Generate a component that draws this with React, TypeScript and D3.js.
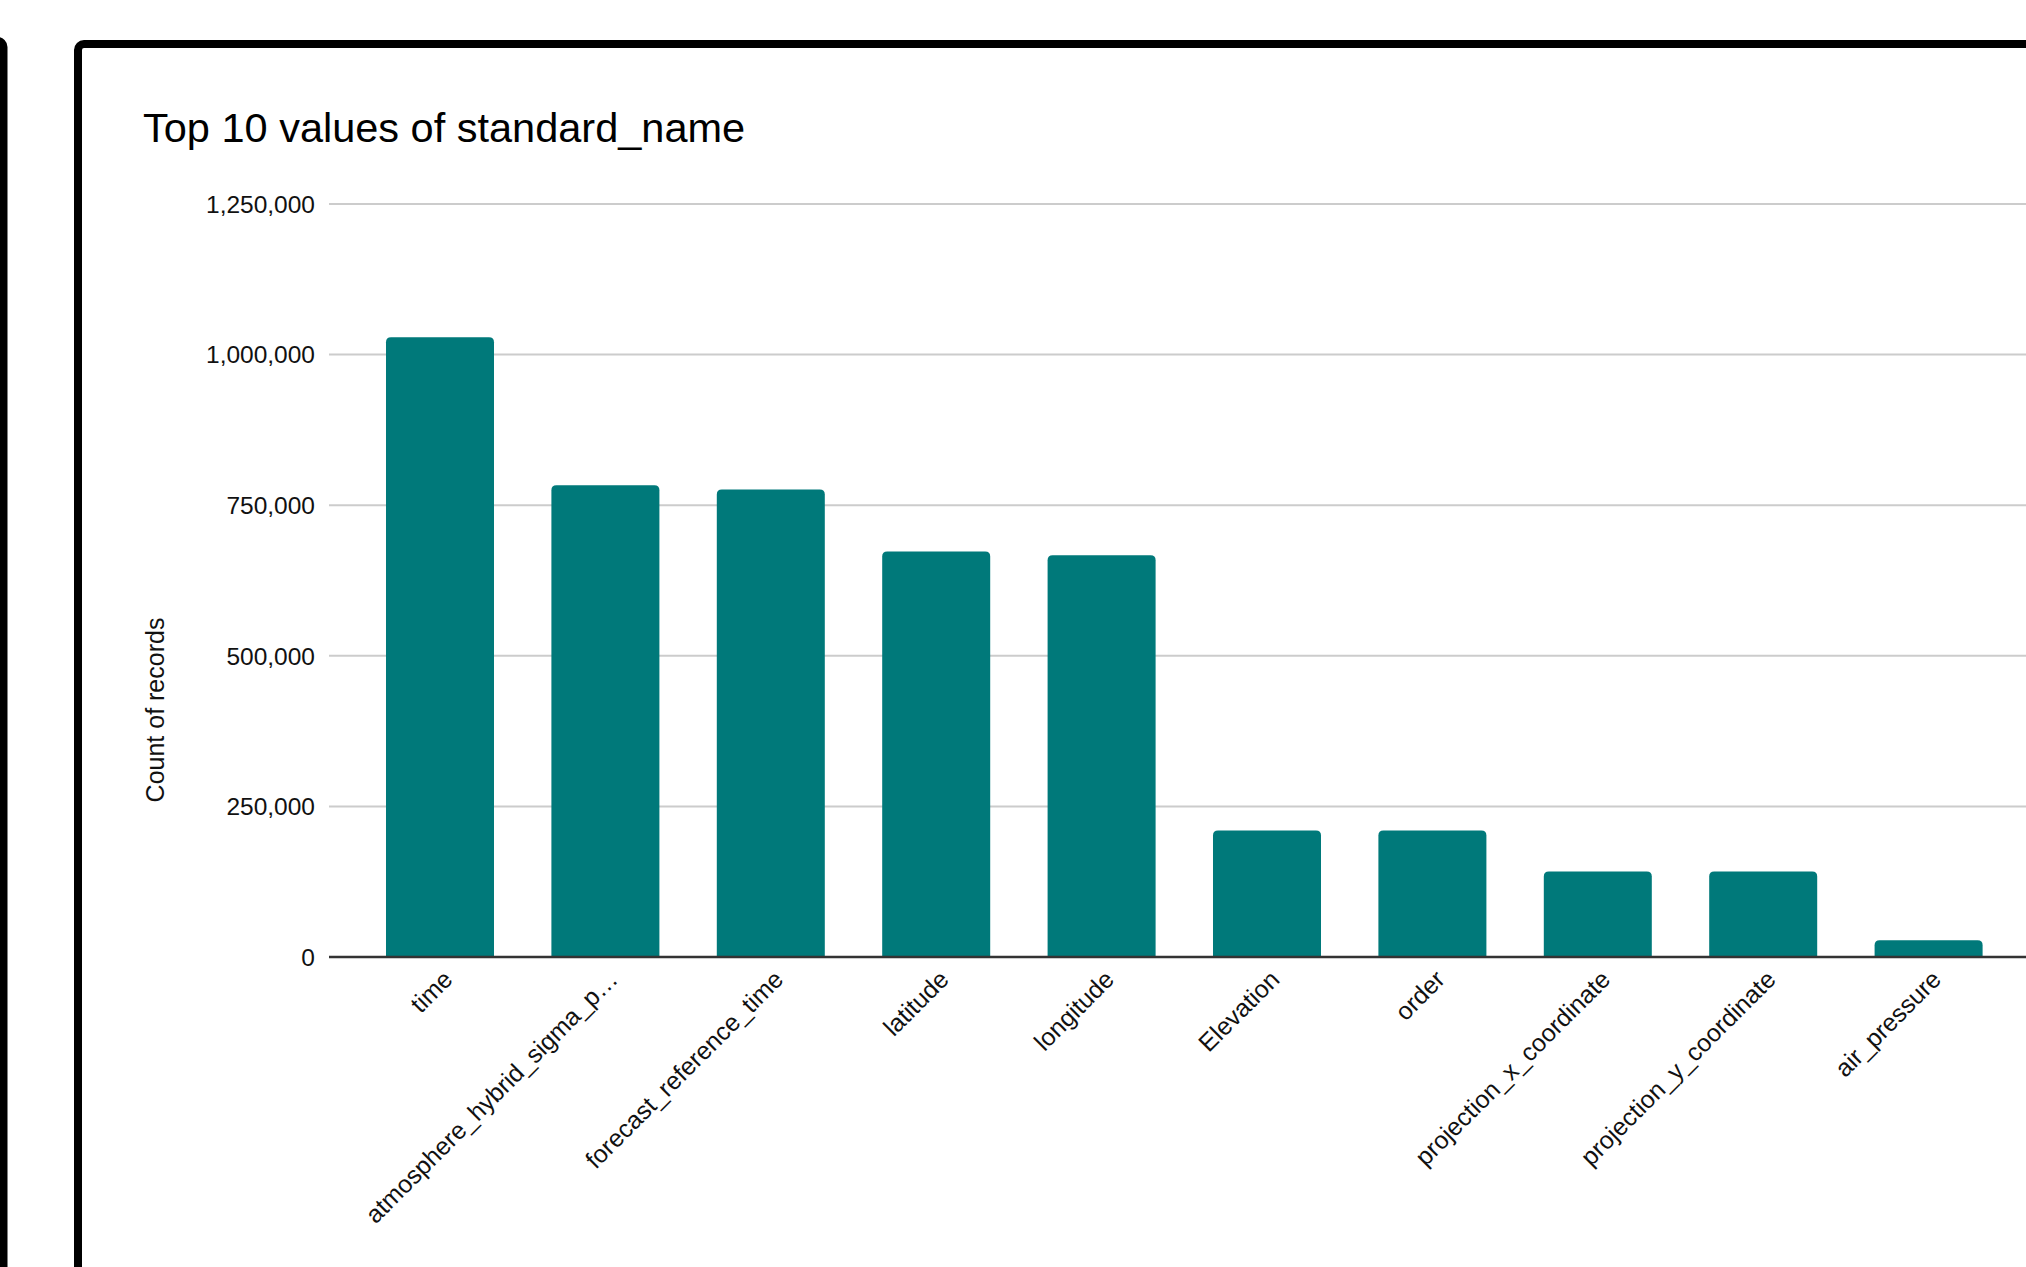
import React from "react";
import * as d3 from "d3";

const categories = [
  "time",
  "atmosphere_hybrid_sigma_p…",
  "forecast_reference_time",
  "latitude",
  "longitude",
  "Elevation",
  "order",
  "projection_x_coordinate",
  "projection_y_coordinate",
  "air_pressure",
];
const counts = [1029000, 783000, 776000, 673000, 667000, 210000, 210000, 142000, 142000, 28000];
const yTicks = [0, 250000, 500000, 750000, 1000000, 1250000];
const title = "Top 10 values of standard_name";
const yTitle = "Count of records";

const W = 2026;
const H = 1267;
const FONT = "'Liberation Sans', Arial, Helvetica, sans-serif";

function topRoundedBar(x: number, y: number, w: number, h: number, r: number) {
  const rr = Math.min(r, h, w / 2);
  const p = d3.path();
  p.moveTo(x, y + h);
  p.lineTo(x, y + rr);
  p.quadraticCurveTo(x, y, x + rr, y);
  p.lineTo(x + w - rr, y);
  p.quadraticCurveTo(x + w, y, x + w, y + rr);
  p.lineTo(x + w, y + h);
  p.closePath();
  return p.toString();
}

export default function App() {
  const x = d3
    .scaleBand<string>()
    .domain(categories)
    .range([357.3, 2011.3])
    .paddingInner(0.347)
    .paddingOuter(0.1735);
  const y = d3.scaleLinear().domain([0, 1250000]).range([957, 204]);
  const fmt = d3.format(",");

  return (
    <svg
      width={W}
      height={H}
      style={{ position: "absolute", left: 0, top: 0, background: "#fff" }}
      fontFamily={FONT}
    >
      <rect x={0} y={0} width={W} height={H} fill="#fff" />
      {/* partial neighbouring frame at the left */}
      <rect x={-200} y={41} width={203.5} height={1400} rx={6} fill="none" stroke="#000" strokeWidth={8} />
      {/* chart frame */}
      <rect x={78} y={44} width={2100} height={1400} rx={6} fill="none" stroke="#000" strokeWidth={8} />

      <text x={143} y={142} fontSize={41.5} fill="#000">
        {title}
      </text>

      {yTicks.map((t) => (
        <g key={t}>
          {t !== 0 && (
            <line x1={329} x2={W + 10} y1={y(t)} y2={y(t)} stroke="#cccccc" strokeWidth={2} />
          )}
          <text x={315} y={y(t)} dy="0.36em" textAnchor="end" fontSize={24.5} fill="#111">
            {fmt(t)}
          </text>
        </g>
      ))}

      <text
        transform={`translate(164,710) rotate(-90)`}
        textAnchor="middle"
        fontSize={25}
        fill="#111"
      >
        {yTitle}
      </text>

      {categories.map((c, i) => {
        const bx = x(c)!;
        const by = y(counts[i]);
        return (
          <path
            key={c}
            d={topRoundedBar(bx, by, x.bandwidth(), y(0) - by, 5)}
            fill="#00797a"
          />
        );
      })}

      <line x1={329} x2={W + 10} y1={y(0)} y2={y(0)} stroke="#333" strokeWidth={2.5} />

      {categories.map((c) => {
        const cx = x(c)! + x.bandwidth() / 2;
        return (
          <text
            key={c}
            transform={`translate(${cx + 14},${y(0) + 24}) rotate(-45)`}
            textAnchor="end"
            fontSize={24.8}
            fill="#111"
          >
            {c}
          </text>
        );
      })}
    </svg>
  );
}
